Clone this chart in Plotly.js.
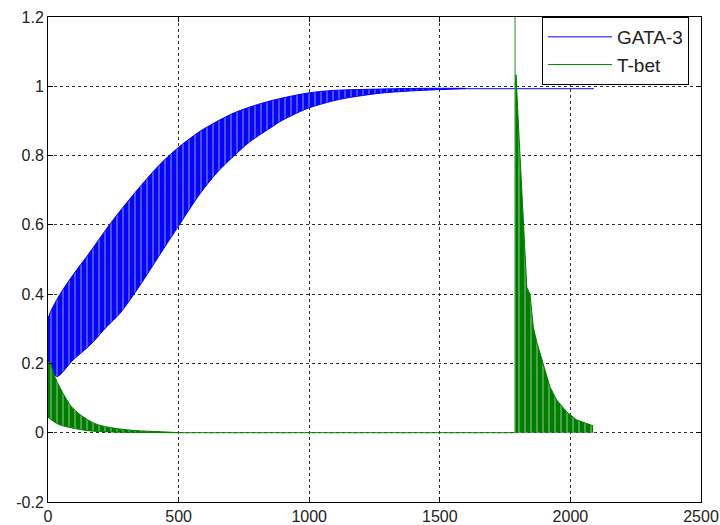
<!DOCTYPE html>
<html>
<head>
<meta charset="utf-8">
<script src="https://cdn.plot.ly/plotly-3.0.1.min.js"></script>
<style>
  html, body { margin: 0; padding: 0; background: #fff; }
  #chart { width: 720px; height: 525px; }
</style>
</head>
<body>
<div id="chart"></div>
<script>
// ---- GATA-3: envelope of the dense oscillation ----
var gataLowerX = [0, 33, 96, 161, 225, 276, 352, 429, 494, 582, 646, 709, 773, 862, 888, 990, 1092, 1143, 1271, 1424, 1600];
var gataLowerY = [0.21, 0.162, 0.21, 0.253, 0.306, 0.345, 0.425, 0.515, 0.59, 0.69, 0.75, 0.797, 0.84, 0.885, 0.898, 0.935, 0.958, 0.966, 0.98, 0.988, 0.993];
var gataUpperX = [0, 10, 46, 100, 150, 235, 276, 352, 429, 494, 582, 709, 837, 990, 1092, 1271, 1424, 1600];
var gataUpperY = [0.33, 0.35, 0.40, 0.46, 0.51, 0.60, 0.64, 0.71, 0.775, 0.82, 0.87, 0.922, 0.955, 0.98, 0.988, 0.992, 0.994, 0.994];
// steady-state tail
var gataTailX = [1600, 2090];
var gataTailY = [0.993, 0.993];

// ---- T-bet ----
var tbetEarlyUpperX = [0, 5, 27, 46, 65, 90, 115, 153, 191, 245, 306, 360, 430, 500];
var tbetEarlyUpperY = [0.19, 0.205, 0.16, 0.13, 0.104, 0.075, 0.057, 0.037, 0.023, 0.014, 0.008, 0.005, 0.003, 0.0];
var tbetEarlyLowerX = [0, 38, 90, 153, 250, 500];
var tbetEarlyLowerY = [0.045, 0.025, 0.014, 0.006, 0.002, 0.0];
// flat zero stretch
var tbetFlatX = [500, 1788];
var tbetFlatY = [0, 0];
// sudden spike (exceeds the axis top)
var tbetSpikeX = [1788, 1788];
var tbetSpikeY = [0, 1.6];
// decaying burst, upper envelope (troughs at ~0)
var tbetLateX = [1789, 1792, 1800, 1807, 1813, 1817, 1826, 1833, 1845, 1852, 1858, 1871, 1884, 1897, 1909, 1922, 1947, 1986, 2024, 2081, 2087];
var tbetLateY = [1.0, 1.033, 0.905, 0.795, 0.705, 0.627, 0.507, 0.42, 0.40, 0.345, 0.305, 0.262, 0.23, 0.196, 0.161, 0.132, 0.095, 0.06, 0.037, 0.023, 0.02];

// ---- axis ticks ----
var xTickVals = [0, 500, 1000, 1500, 2000, 2500];
var xTickText = ['0', '500', '1000', '1500', '2000', '2500'];
var yTickVals = [-0.2, 0, 0.2, 0.4, 0.6, 0.8, 1, 1.2];
var yTickText = ['-0.2', '0', '0.2', '0.4', '0.6', '0.8', '1', '1.2'];

var BLUE = 'rgb(0,0,255)';
var GREEN = 'rgb(0,128,0)';

var bluePattern = {shape: '|', bgcolor: 'rgb(5,5,252)', fgcolor: 'rgb(150,150,255)', fgopacity: 0.9, size: 6, solidity: 0.18};
var greenPattern = {shape: '|', bgcolor: 'rgb(0,125,0)', fgcolor: 'rgb(150,205,150)', fgopacity: 0.9, size: 6, solidity: 0.18};

var traces = [
  // GATA-3 band
  {x: gataLowerX, y: gataLowerY, mode: 'lines', line: {color: BLUE, width: 1, shape: 'spline', smoothing: 0.8},
   showlegend: false, hoverinfo: 'skip'},
  {x: gataUpperX, y: gataUpperY, mode: 'lines', line: {color: BLUE, width: 1, shape: 'spline', smoothing: 0.8},
   fill: 'tonexty', fillcolor: BLUE, fillpattern: bluePattern, showlegend: false, hoverinfo: 'skip'},
  {x: gataTailX, y: gataTailY, mode: 'lines', line: {color: BLUE, width: 1},
   name: 'GATA-3', legendgroup: 'g', showlegend: true},

  // T-bet early band
  {x: tbetEarlyLowerX, y: tbetEarlyLowerY, mode: 'lines', line: {color: GREEN, width: 1, shape: 'spline'},
   showlegend: false, hoverinfo: 'skip'},
  {x: tbetEarlyUpperX, y: tbetEarlyUpperY, mode: 'lines', line: {color: GREEN, width: 1, shape: 'spline'},
   fill: 'tonexty', fillcolor: GREEN, fillpattern: greenPattern, showlegend: false, hoverinfo: 'skip'},
  // spike
  {x: tbetSpikeX, y: tbetSpikeY, mode: 'lines', line: {color: 'rgb(70,160,70)', width: 1.2},
   showlegend: false, hoverinfo: 'skip'},
  // late burst
  {x: tbetLateX, y: tbetLateY, mode: 'lines', line: {color: GREEN, width: 1},
   fill: 'tozeroy', fillcolor: GREEN, fillpattern: greenPattern, showlegend: false, hoverinfo: 'skip'},
  // zero stretch, also the legend entry for T-bet
  {x: tbetFlatX, y: tbetFlatY, mode: 'lines', line: {color: GREEN, width: 1},
   name: 'T-bet', legendgroup: 't', showlegend: true}
];

var axisCommon = {
  showline: true, linecolor: '#000', linewidth: 1, mirror: 'ticks',
  ticks: 'inside', ticklen: 5, tickcolor: '#000', tickwidth: 1,
  showgrid: true, gridcolor: '#333', gridwidth: 1, griddash: '3px,3px',
  zeroline: false,
  tickfont: {family: 'Liberation Sans, Arial, sans-serif', size: 16, color: '#222'}
};

var layout = {
  width: 720, height: 525,
  margin: {l: 48, r: 19, t: 17, b: 23},
  paper_bgcolor: '#fff', plot_bgcolor: '#fff',
  xaxis: Object.assign({}, axisCommon, {range: [0, 2500], tickmode: 'array', tickvals: xTickVals, ticktext: xTickText}),
  yaxis: Object.assign({}, axisCommon, {range: [-0.2, 1.2], tickmode: 'array', tickvals: yTickVals, ticktext: yTickText}),
  showlegend: true,
  legend: {
    x: 0.9816, xanchor: 'right', y: 1, yanchor: 'top',
    bgcolor: '#fff', bordercolor: '#000', borderwidth: 1,
    font: {family: 'Liberation Sans, Arial, sans-serif', size: 19, color: '#222'},
    itemwidth: 64, traceorder: 'grouped', tracegroupgap: 0
  }
};

Plotly.newPlot('chart', traces, layout, {staticPlot: true, displayModeBar: false});
</script>
</body>
</html>
